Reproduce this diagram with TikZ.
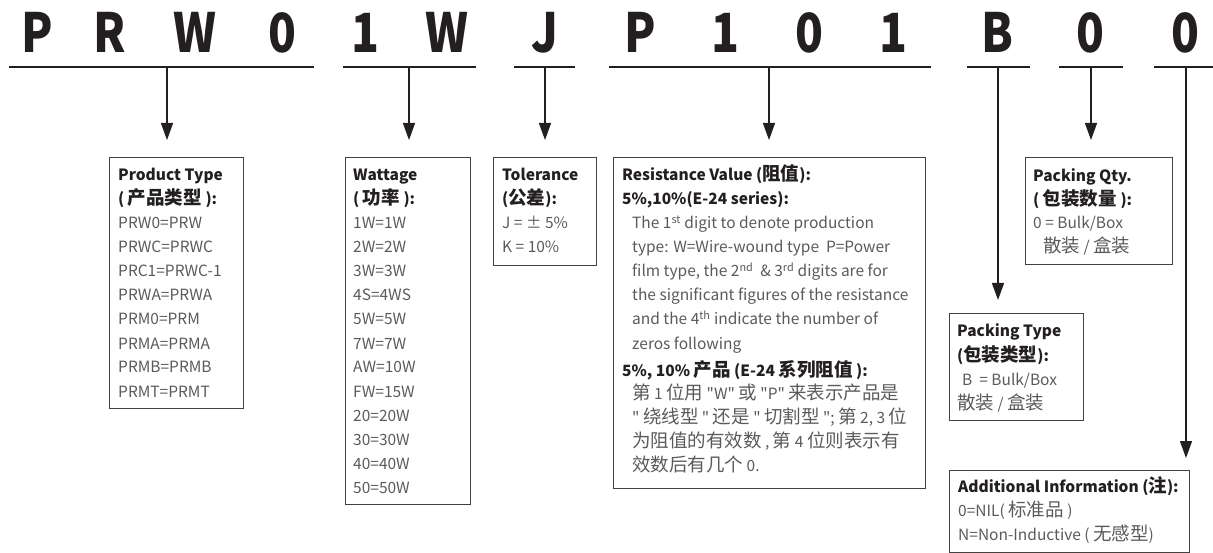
\documentclass[tikz,border=0pt]{standalone}
\usepackage{fontspec}
\setmainfont{Noto Sans CJK SC}
\newfontfamily\txtfont{Noto Sans CJK SC}
\newfontfamily\codefont[FakeStretch=0.85]{Noto Sans CJK SC}
\usetikzlibrary{arrows.meta}
\definecolor{ink}{HTML}{231F20}
\definecolor{bodygray}{HTML}{5A5A5C}
\newcommand\zh[1]{{\fontsize{18.5}{24}\selectfont #1}}
\begin{document}
\begin{tikzpicture}[x=1pt,y=-1pt,
 codeletter/.style={font=\codefont\bfseries\fontsize{54}{54}\selectfont, text=ink, inner sep=0pt, anchor=base},
 seg/.style={draw=ink, line width=1.4pt},
 arr/.style={draw=ink, line width=1.3pt, -{Triangle[length=17pt,width=12pt]}},
 infobox/.style={draw=ink!85, line width=1.2pt, inner sep=0pt, anchor=north west},
 title/.style={font=\txtfont\bfseries\fontsize{15.5}{24}\selectfont, text=ink, inner sep=0pt, anchor=base west},
 body/.style={font=\txtfont\fontsize{15.5}{24}\selectfont, text=bodygray, inner sep=0pt, anchor=base west},
]
\useasboundingbox (0,0) rectangle (1213,553);

% code letters
\foreach \ch/\x [count=\i] in {P/37,R/110,W/195,0/282,1/365,W/447,J/545,P/640,1/725,0/809,1/893,B/997,0/1090,0/1185}
  \node[codeletter] (L\i) at (\x,53) {\ch};

% underline segments
\foreach \a/\b [count=\i] in {9/314,343/476,514/575,609/931,967/1030,1059/1123,1154/1213}{
  \coordinate (s\i a) at (\a,67);
  \coordinate (s\i b) at (\b,67);
  \draw[seg] (s\i a) -- (s\i b);
}

% boxes
\node[infobox, minimum width=134pt, minimum height=251pt] (ptbox) at (109,157) {};
\node[infobox, minimum width=125pt, minimum height=347pt] (wtbox) at (345,157) {};
\node[infobox, minimum width=103pt, minimum height=108pt] (tlbox) at (493,157) {};
\node[infobox, minimum width=312pt, minimum height=331pt] (rvbox) at (613,157) {};
\node[infobox, minimum width=147pt, minimum height=107pt] (pqbox) at (1025,157) {};
\node[infobox, minimum width=134pt, minimum height=107pt] (ptybox) at (949,313) {};
\node[infobox, minimum width=240pt, minimum height=82pt] (adbox) at (949,470) {};

% arrow start points on the segments
\coordinate (c1) at (167,67);
\coordinate (c2) at (409,67);
\coordinate (c3) at (545,67);
\coordinate (c4) at (769,67);
\coordinate (c5) at (998,67);
\coordinate (c6) at (1091,67);
\coordinate (c7) at (1186,67);

\draw[arr, shorten >=17pt] (c1) -- (c1 |- ptbox.north);
\draw[arr, shorten >=17pt] (c2) -- (c2 |- wtbox.north);
\draw[arr, shorten >=17pt] (c3) -- (c3 |- tlbox.north);
\draw[arr, shorten >=17pt] (c4) -- (c4 |- rvbox.north);
\draw[arr, shorten >=13pt] (c5) -- (c5 |- ptybox.north);
\draw[arr, shorten >=17pt] (c6) -- (c6 |- pqbox.north);
\draw[arr, shorten >=12pt] (c7) -- (c7 |- adbox.north);

% Product Type
\node[title] (pt1) at (118,181) {Product Type};
\node[title] (pt2) at (118,205) {( \zh{产品类型} ):};
\foreach \t [count=\i from 0] in {{PRW0=PRW},{PRWC=PRWC},{PRC1=PRWC-1},{PRWA=PRWA},{PRM0=PRM},{PRMA=PRMA},{PRMB=PRMB},{PRMT=PRMT}}
  \node[body] (ptl\i) at (118,{229+24*\i}) {\t};

% Wattage
\node[title] (wt1) at (353,181) {Wattage};
\node[title] (wt2) at (353,205) {( \zh{功率} ):};
\foreach \t [count=\i from 0] in {{1W=1W},{2W=2W},{3W=3W},{4S=4WS},{5W=5W},{7W=7W},{AW=10W},{FW=15W},{20=20W},{30=30W},{40=40W},{50=50W}}
  \node[body] (wtl\i) at (353,{229+24*\i}) {\t};

% Tolerance
\node[title] (tl1) at (502,181) {Tolerance};
\node[title] (tl2) at (502,205) {(\zh{公差}):};
\node[body] (tl3) at (502,229) {J = ± 5\%};
\node[body] (tl4) at (502,253) {K = 10\%};

% Resistance Value
\node[title] (rv1) at (622,181) {Resistance Value (\zh{阻值}):};
\node[title] (rv2) at (622,205) {5\%,10\%(E-24 series):};
\node[body] (rv3) at (632,229) {The 1\textsuperscript{st} digit to denote production};
\node[body] (rv4) at (632,253) {type: W=Wire-wound type\ \ P=Power};
\node[body] (rv5) at (632,277) {film type, the 2\textsuperscript{nd}\ \ \& 3\textsuperscript{rd} digits are for};
\node[body] (rv6) at (632,301) {the significant figures of the resistance};
\node[body] (rv7) at (632,325) {and the 4\textsuperscript{th} indicate the number of};
\node[body] (rv8) at (632,349) {zeros following};
\node[title] (rv9) at (622,376) {5\%, 10\% \zh{产品} (E-24 \zh{系列阻值} ):};
\node[body] (rv10) at (632,399) {\zh{第} 1 \zh{位用} "W" \zh{或} "P" \zh{来表示产品是}};
\node[body] (rv11) at (632,423) {" \zh{绕线型} " \zh{还是} " \zh{切割型} "; \zh{第} 2, 3 \zh{位}};
\node[body] (rv12) at (632,447) {\zh{为阻值的有效数} , \zh{第} 4 \zh{位则表示有}};
\node[body] (rv13) at (632,471) {\zh{效数后有几个} 0.};

% Packing Qty
\node[title] (pq1) at (1033,182) {Packing Qty.};
\node[title] (pq2) at (1033,206) {( \zh{包装数量} ):};
\node[body] (pq3) at (1033,229) {0 = Bulk/Box};
\node[body] (pq4) at (1043,253) {\zh{散装} / \zh{盒装}};

% Packing Type
\node[title] (py1) at (957,337) {Packing Type};
\node[title] (py2) at (957,361) {(\zh{包装类型}):};
\node[body] (py3) at (962,385) {B\ \ = Bulk/Box};
\node[body] (py4) at (957,409) {\zh{散装} / \zh{盒装}};

% Additional Information
\node[title] (ad1) at (958,492) {Additional Information (\zh{注}):};
\node[body] (ad2) at (958,516) {0=NIL( \zh{标准品} )};
\node[body] (ad3) at (958,540) {N=Non-Inductive ( \zh{无感型})};
\end{tikzpicture}
\end{document}
